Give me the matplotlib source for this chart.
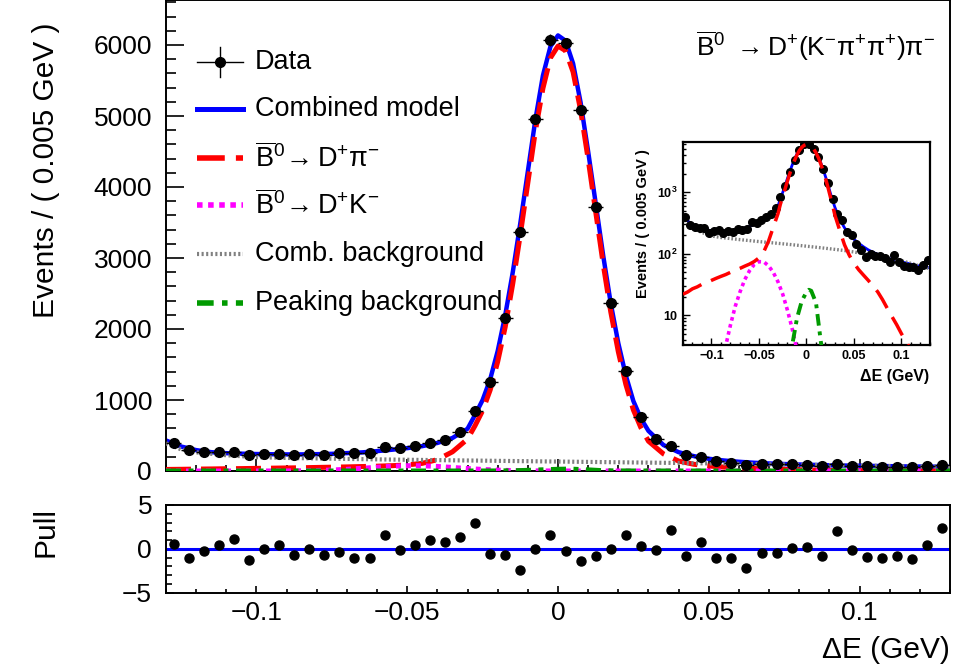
import numpy as np
import matplotlib
matplotlib.use('Agg')
import matplotlib.pyplot as plt
from matplotlib.ticker import MultipleLocator, FixedLocator, FixedFormatter, NullFormatter, LogLocator

plt.rcParams['font.family'] = ['Liberation Sans', 'DejaVu Sans']
plt.rcParams['mathtext.fontset'] = 'custom'
plt.rcParams['mathtext.rm'] = 'Liberation Sans'
plt.rcParams['mathtext.it'] = 'Liberation Sans:italic'
plt.rcParams['mathtext.bf'] = 'Liberation Sans:bold'
plt.rcParams['mathtext.default'] = 'rm'

# ---------------- data ----------------
bin_centers = np.linspace(-0.1275, 0.1275, 52)
data_counts = [399, 298, 270, 262, 262, 222, 236, 240, 222, 239,
               230, 249, 248, 257, 333, 320, 352, 390, 437, 553,
               845, 1249, 2151, 3362, 4954, 6070, 6024, 5085, 3714, 2362,
               1408, 765, 451, 352, 225, 201, 145, 117, 89, 99,
               92, 92, 87, 74, 96, 74, 64, 60, 60, 54,
               66, 78]
pulls = [0.58, -1.1, -0.27, 0.46, 1.1, -1.3, -0.04, 0.46, -0.77, -0.04,
         -0.77, -0.38, -1.04, -1.1, 1.54, -0.19, 0.46, 0.96, 0.77, 1.35,
         3.0, -0.6, -0.69, -2.4, -0.08, 1.6, -0.3, -1.38, -0.8, -0.08,
         1.54, 0.35, -0.19, 2.2, -0.8, 0.8, -1.1, -1.0, -2.2, -0.5,
         -0.46, 0.08, 0.15, -0.88, 2.0, -0.12, -0.92, -1.1, -0.8, -1.2,
         0.46, 2.4]

# fit curves
curve_x = [-0.13, -0.125, -0.12, -0.115, -0.11, -0.105, -0.10, -0.095, -0.09, -0.085,
           -0.08, -0.075, -0.07, -0.065, -0.06, -0.055, -0.05, -0.045, -0.04, -0.035,
           -0.03, -0.0275, -0.025, -0.0225, -0.02, -0.0175, -0.015, -0.0125, -0.01, -0.0075,
           -0.005, -0.0025, 0.0, 0.0025, 0.005, 0.0075, 0.01, 0.0125, 0.015, 0.0175,
           0.02, 0.0225, 0.025, 0.0275, 0.03, 0.035, 0.04, 0.045, 0.05, 0.055,
           0.06, 0.065, 0.07, 0.075, 0.08, 0.085, 0.09, 0.095, 0.10, 0.105,
           0.11, 0.115, 0.12, 0.125, 0.13]
combined_model = [430, 345, 294, 265, 251, 244, 239, 236, 234, 234,
                  237, 242, 252, 262, 280, 300, 322, 350, 395, 465,
                  595, 790, 1000, 1290, 1690, 2195, 2800, 3490, 4220, 4950,
                  5570, 5980, 6135, 6060, 5740, 5190, 4500, 3770, 3030, 2360,
                  1800, 1345, 985, 740, 565, 365, 265, 210, 172, 148,
                  130, 116, 106, 98, 92, 86, 81, 77, 74, 71,
                  68, 65, 63, 61, 59]
signal_dpi = [22, 24, 27, 29, 32, 34, 37, 40, 43, 46,
              50, 54, 58, 63, 68, 75, 86, 108, 160, 270,
              450, 640, 850, 1140, 1540, 2030, 2640, 3330, 4060, 4790,
              5390, 5820, 5985, 5920, 5620, 5080, 4390, 3650, 2910, 2240,
              1680, 1220, 860, 610, 420, 240, 140, 95, 70, 55,
              45, 37, 30, 24, 18, 13, 9.5, 7, 5, 3.7,
              2.7, 2.0, 1.5, 1.1, 0.8]

comb_x = [-0.13, -0.125, -0.12, -0.11, -0.10, -0.09, -0.08, -0.07, -0.06, -0.05,
          -0.04, -0.03, -0.02, -0.01, 0.0, 0.01, 0.02, 0.03, 0.04, 0.05,
          0.06, 0.07, 0.08, 0.09, 0.10, 0.11, 0.12, 0.13]
comb_bkg = [390, 305, 262, 222, 195, 184, 177, 170, 164, 158,
            153, 148, 143, 138, 133, 128, 123, 118, 113, 107,
            101, 95, 89, 83, 77, 70, 63, 57]

dk_x = [-0.13, -0.12, -0.11, -0.10, -0.095, -0.09, -0.085, -0.08, -0.075, -0.07,
        -0.065, -0.06, -0.055, -0.05, -0.045, -0.04, -0.035, -0.03, -0.025, -0.02,
        -0.015, -0.01, -0.005, 0.0, 0.01, 0.02, 0.13]
dk_bkg = [0.001, 0.005, 0.03, 0.15, 0.5, 1.3, 3.2, 7, 14, 24,
          38, 53, 67, 74.5, 74, 64, 50, 35, 22, 12,
          6, 2.7, 1.1, 0.4, 0.03, 0.002, 0.001]

pk_x = [-0.13, -0.03, -0.025, -0.02, -0.015, -0.01, -0.005, 0.0, 0.0025, 0.005,
        0.01, 0.015, 0.02, 0.025, 0.03, 0.13]
pk_bkg = [0.001, 0.01, 0.08, 0.6, 3.3, 9, 17, 24, 26, 25,
          16, 3.8, 1.2, 0.2, 0.02, 0.001]

# ---------------- figure ----------------
W, H = 979, 665
fig = plt.figure(figsize=(W / 100, H / 100), dpi=100)


def fr(l, t, r, b):
    return [l / W, 1 - b / H, (r - l) / W, (b - t) / H]


FS = 19      # tick labels / legend
FT = 21.5    # axis titles
c_blue, c_red, c_mag, c_gray, c_green = '#0000ff', '#ff0000', '#ff00ff', '#808080', '#009a00'

# ----- main panel -----
ax = fig.add_axes(fr(166, 0, 950, 471))
ax.set_xlim(-0.13, 0.13)
ax.set_ylim(0, 471 / 0.071)

ax.plot(curve_x, combined_model, color=c_blue, lw=3.2, zorder=2)
ax.plot(curve_x, signal_dpi, color=c_red, lw=3.6, dashes=(5, 2), zorder=3)
ax.plot(dk_x, dk_bkg, color=c_mag, lw=3.6, dashes=(1, 1), zorder=3)
ax.plot(comb_x, comb_bkg, color=c_gray, lw=3.0, dashes=(0.5, 0.6), zorder=3)
ax.plot(pk_x, pk_bkg, color=c_green, lw=3.6, dashes=(3, 1.5, 1, 1.5), zorder=3)

errs = np.sqrt(np.array(data_counts, dtype=float))
ax.errorbar(bin_centers, data_counts, yerr=errs, xerr=0.0025, fmt='o', color='black',
            ms=7, elinewidth=1.0, capsize=0, zorder=5)

ax.xaxis.set_major_locator(MultipleLocator(0.05))
ax.xaxis.set_minor_locator(MultipleLocator(0.01))
ax.yaxis.set_major_locator(MultipleLocator(1000))
ax.yaxis.set_minor_locator(MultipleLocator(200))
ax.tick_params(axis='both', which='both', direction='in', top=False, right=False,
               labelsize=FS, width=1.2)
ax.tick_params(axis='y', which='major', length=13, pad=10)
ax.tick_params(axis='y', which='minor', length=7)
ax.tick_params(axis='x', which='major', length=9, labelbottom=False)
ax.tick_params(axis='x', which='minor', length=4)
for s in ax.spines.values():
    s.set_linewidth(1.4)

# legend (drawn manually in axes fraction)
lx0, lx1, ltx = 0.0395, 0.0982, 0.1135
row_y = [(471 - v) / 471 for v in (61.7, 109, 158, 205, 254, 303)]
tr = ax.transAxes
ax.plot([lx0, lx1], [row_y[0]] * 2, color='black', lw=1.0, transform=tr, clip_on=False)
ax.plot([(lx0 + lx1) / 2] * 2, [row_y[0] - 0.032, row_y[0] + 0.032], color='black', lw=1.0,
        transform=tr, clip_on=False)
ax.plot([(lx0 + lx1) / 2], [row_y[0]], 'o', color='black', ms=7, transform=tr, clip_on=False)
ax.plot([lx0, lx1], [row_y[1]] * 2, color=c_blue, lw=3.6, transform=tr)
ax.plot([lx0, lx1], [row_y[2]] * 2, color=c_red, lw=4, dashes=(5, 2), transform=tr)
ax.plot([lx0, lx1], [row_y[3]] * 2, color=c_mag, lw=4, dashes=(1, 1), transform=tr)
ax.plot([lx0, lx1], [row_y[4]] * 2, color=c_gray, lw=3, dashes=(0.5, 0.6), transform=tr)
ax.plot([lx0, lx1], [row_y[5]] * 2, color=c_green, lw=4, dashes=(3, 1.5, 1, 1.5), transform=tr)
labels = ['Data', 'Combined model',
          r'$\overline{\mathrm{B}}^{0}\!\rightarrow \mathrm{D}^{+}\pi^{-}$',
          r'$\overline{\mathrm{B}}^{0}\!\rightarrow \mathrm{D}^{+}\mathrm{K}^{-}$',
          'Comb. background', 'Peaking background']
for yy, lab in zip(row_y, labels):
    ax.text(ltx, yy, lab, transform=tr, fontsize=FS + 0.5, ha='left', va='center')

fig.text(935 / W, 1 - 46 / H,
         r'$\overline{\mathrm{B}}^{0}\ \rightarrow \mathrm{D}^{+}(\mathrm{K}^{-}\pi^{+}\pi^{+})\pi^{-}$',
         fontsize=FS, ha='right', va='center')

fig.text(46 / W, 1 - 170 / H, 'Events / ( 0.005 GeV )', rotation=90, fontsize=FT,
         ha='center', va='center')

# ----- pull panel -----
axp = fig.add_axes(fr(166, 505, 950, 592.5))
axp.set_xlim(-0.13, 0.13)
axp.set_ylim(-5, 5)
axp.axhline(0, color=c_blue, lw=2.2, zorder=2)
axp.plot(bin_centers, pulls, 'o', color='black', ms=6.5, zorder=3)
axp.xaxis.set_major_locator(MultipleLocator(0.05))
axp.xaxis.set_minor_locator(MultipleLocator(0.01))
axp.yaxis.set_major_locator(MultipleLocator(5))
axp.yaxis.set_minor_locator(MultipleLocator(1))
axp.tick_params(axis='both', which='both', direction='in', top=False, right=False,
                labelsize=FS, width=1.2)
axp.tick_params(axis='y', which='major', length=6, pad=10)
axp.tick_params(axis='y', which='minor', length=4)
axp.tick_params(axis='x', which='major', length=5, pad=6)
axp.tick_params(axis='x', which='minor', length=3)
axp.set_xticks([-0.1, -0.05, 0, 0.05, 0.1])
axp.set_xticklabels(['\u22120.1', '\u22120.05', '0', '0.05', '0.1'])
axp.set_yticks([-5, 0, 5])
axp.set_yticklabels(['\u22125', '0', '5'])
for s in axp.spines.values():
    s.set_linewidth(1.4)
fig.text(46 / W, 1 - 532 / H, 'Pull', rotation=90, fontsize=FT, ha='center', va='center')
fig.text(950 / W, 1 - 650 / H, '\u0394E (GeV)', fontsize=FT, ha='right', va='center')

# ----- inset (log scale) -----
axi = fig.add_axes(fr(683, 142.5, 930, 344.5))
axi.set_yscale('log')
axi.set_xlim(-0.13, 0.13)
axi.set_ylim(3.35, 6460)
axi.plot(curve_x, combined_model, color=c_blue, lw=2.0, zorder=2)
axi.plot(comb_x, comb_bkg, color=c_gray, lw=2.4, dashes=(0.5, 0.6), zorder=3)
axi.plot(dk_x, dk_bkg, color=c_mag, lw=2.6, dashes=(1, 1), zorder=3)
axi.plot(pk_x, pk_bkg, color=c_green, lw=2.8, dashes=(3, 1.5, 1, 1.5), zorder=3)
axi.plot(bin_centers, data_counts, 'o', color='black', ms=5.5, zorder=4)
axi.plot(curve_x, signal_dpi, color=c_red, lw=2.5, dashes=(6, 3), zorder=5)
axi.xaxis.set_major_locator(FixedLocator([-0.1, -0.05, 0, 0.05, 0.1]))
axi.xaxis.set_major_formatter(FixedFormatter(['\u22120.1', '\u22120.05', '0', '0.05', '0.1']))
axi.xaxis.set_minor_locator(MultipleLocator(0.01))
axi.yaxis.set_major_locator(FixedLocator([10, 100, 1000]))
axi.yaxis.set_major_formatter(FixedFormatter(['10', r'$\mathbf{10^{2}}$', r'$\mathbf{10^{3}}$']))
axi.yaxis.set_minor_locator(LogLocator(base=10, subs=np.arange(2, 10)))
axi.yaxis.set_minor_formatter(NullFormatter())
axi.tick_params(axis='both', which='both', direction='in', top=False, right=False,
                labelsize=9, width=1.0)
axi.tick_params(axis='both', which='major', length=5, pad=4)
axi.tick_params(axis='both', which='minor', length=2.5)
for lab in axi.get_xticklabels() + axi.get_yticklabels():
    lab.set_fontweight('bold')
for s in axi.spines.values():
    s.set_linewidth(1.6)
fig.text(643 / W, 1 - 224 / H, 'Events / ( 0.005 GeV )', rotation=90, fontsize=10.5,
         fontweight='bold', ha='center', va='center')
fig.text(929 / W, 1 - 377 / H, '\u0394E (GeV)', fontsize=11.5, fontweight='bold',
         ha='right', va='center')

fig.savefig('out.png', dpi=100)
